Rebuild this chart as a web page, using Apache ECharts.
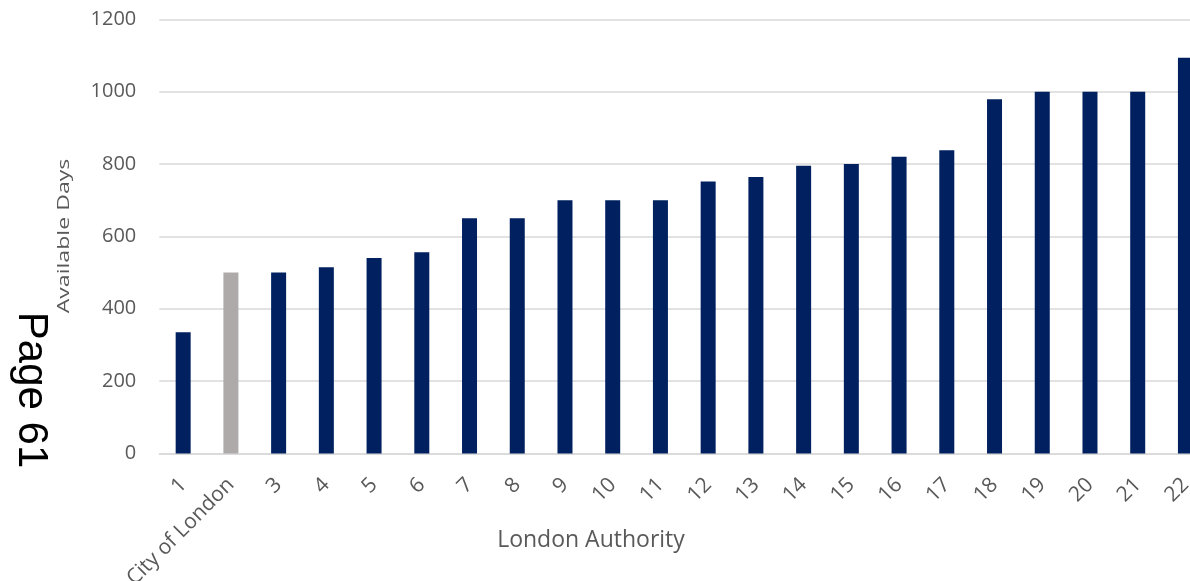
<!DOCTYPE html>
<html>
<head>
<meta charset="utf-8">
<script src="https://cdn.jsdelivr.net/npm/echarts@6/dist/echarts.min.js"></script>
<style>
  html, body { margin: 0; padding: 0; background: #ffffff; overflow: hidden; }
  /* the plot runs past the right edge of the page, so the canvas is wider than the window */
  #chart { width: 1230px; height: 581px; }
</style>
</head>
<body>
<div id="chart"></div>
<script>
// London authorities and their available days
const categories = ['1', 'City of London', '3', '4', '5', '6', '7', '8', '9', '10', '11',
  '12', '13', '14', '15', '16', '17', '18', '19', '20', '21', '22'];
const availableDays = [335, 500, 500, 515, 540, 556, 650, 650, 700, 700, 700,
  752, 764, 795, 800, 820, 838, 979, 1000, 1000, 1000, 1094];
const highlighted = 'City of London';
const yTicks = { min: 0, max: 1200, step: 200 };

const NAVY = '#002060';
const GREY = '#AEAAAA';
const TEXT = '#595959';
const FONT = '"Open Sans", sans-serif';

const chart = echarts.init(document.getElementById('chart'), null, { renderer: 'canvas' });

chart.setOption({
  animation: false,
  backgroundColor: '#ffffff',
  grid: {
    left: 159.3, top: 19.3, width: 1050, height: 434.2,
    containLabel: false,
    outerBoundsMode: 'none'
  },
  xAxis: {
    type: 'category',
    data: categories,
    axisLine: { show: true, lineStyle: { color: '#D9D9D9', width: 1.5 } },
    axisTick: { show: false },
    axisLabel: {
      interval: 0,
      rotate: 45,
      margin: 28,
      color: TEXT,
      fontFamily: FONT,
      fontSize: 21
    }
  },
  yAxis: {
    type: 'value',
    min: yTicks.min,
    max: yTicks.max,
    interval: yTicks.step,
    axisLine: { show: false },
    axisTick: { show: false },
    splitLine: { show: true, lineStyle: { color: '#D9D9D9', width: 1.5 } },
    axisLabel: {
      margin: 23,
      color: TEXT,
      fontFamily: FONT,
      fontSize: 20,
      formatter: function (v) { return String(v); }
    }
  },
  series: [{
    type: 'bar',
    data: availableDays,
    barWidth: 15,
    itemStyle: {
      color: function (p) {
        return categories[p.dataIndex] === highlighted ? GREY : NAVY;
      }
    }
  }],
  graphic: [
    {
      type: 'text',
      x: 591, y: 540,
      style: {
        text: 'London Authority',
        fill: TEXT,
        font: '23px ' + FONT,
        align: 'center',
        verticalAlign: 'middle'
      }
    },
    {
      type: 'text',
      x: 64, y: 236,
      rotation: Math.PI / 2,
      scaleX: 1.36,
      style: {
        text: 'Available Days',
        fill: TEXT,
        font: '17px ' + FONT,
        align: 'center',
        verticalAlign: 'middle'
      }
    },
    {
      type: 'text',
      x: 31, y: 390,
      rotation: -Math.PI / 2,
      style: {
        text: 'Page 61',
        fill: '#000000',
        font: '42px "Liberation Sans", Arial, sans-serif',
        align: 'center',
        verticalAlign: 'middle'
      }
    }
  ]
});
</script>
</body>
</html>
